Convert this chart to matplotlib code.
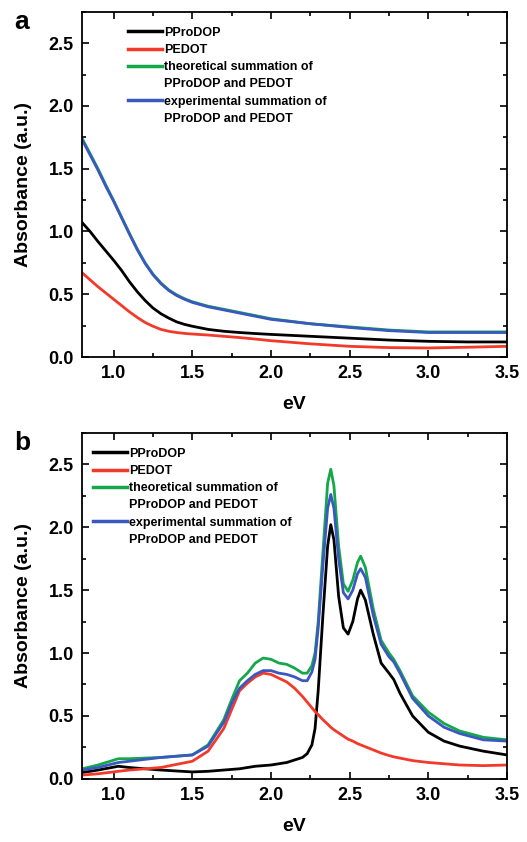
import matplotlib
matplotlib.use("Agg")
import matplotlib.pyplot as plt
from matplotlib.ticker import MultipleLocator
from matplotlib.lines import Line2D

plt.rcParams['font.family'] = ['Liberation Sans', 'DejaVu Sans']
plt.rcParams['font.weight'] = 'bold'

# ---------------- Panel a data ----------------
a_ev = [0.8, 0.85, 0.9, 0.95, 1.0, 1.05, 1.1, 1.15, 1.2, 1.25, 1.3, 1.35, 1.4, 1.45, 1.5,
        1.6, 1.7, 1.8, 1.9, 2.0, 2.25, 2.5, 2.75, 3.0, 3.25, 3.5]
a_pprodop = [1.07, 1.0, 0.92, 0.845, 0.77, 0.69, 0.60, 0.52, 0.45, 0.39, 0.345, 0.31, 0.28, 0.26, 0.245,
             0.22, 0.205, 0.195, 0.187, 0.18, 0.165, 0.15, 0.135, 0.125, 0.12, 0.12]
a_pedot = [0.67, 0.615, 0.56, 0.51, 0.46, 0.41, 0.36, 0.315, 0.275, 0.245, 0.22, 0.205, 0.195, 0.188, 0.183,
           0.175, 0.165, 0.155, 0.143, 0.13, 0.105, 0.085, 0.075, 0.072, 0.078, 0.085]
a_theo = [1.74, 1.62, 1.50, 1.37, 1.245, 1.115, 0.985, 0.86, 0.75, 0.66, 0.59, 0.535, 0.495, 0.465, 0.44,
          0.405, 0.38, 0.355, 0.33, 0.305, 0.265, 0.24, 0.215, 0.20, 0.20, 0.20]
a_exp = [1.73, 1.61, 1.49, 1.36, 1.24, 1.11, 0.98, 0.855, 0.745, 0.655, 0.585, 0.53, 0.49, 0.46, 0.435,
         0.40, 0.375, 0.35, 0.325, 0.30, 0.265, 0.235, 0.21, 0.195, 0.195, 0.195]

# ---------------- Panel b data ----------------
b_ev = [0.8, 0.9, 1.03, 1.1, 1.3, 1.5, 1.6, 1.7, 1.75, 1.8, 1.85, 1.9, 1.95, 2.0, 2.05, 2.1, 2.15,
        2.2, 2.23, 2.26, 2.28, 2.3, 2.33, 2.36, 2.38, 2.40, 2.43, 2.46, 2.49, 2.52, 2.55, 2.57,
        2.6, 2.65, 2.7, 2.75, 2.78, 2.82, 2.9, 3.0, 3.1, 3.2, 3.35, 3.5]
b_pprodop = [0.05, 0.07, 0.10, 0.09, 0.07, 0.055, 0.06, 0.07, 0.075, 0.08, 0.09, 0.10, 0.105, 0.11, 0.12, 0.13, 0.15,
             0.17, 0.20, 0.27, 0.40, 0.70, 1.30, 1.85, 2.02, 1.90, 1.45, 1.20, 1.15, 1.25, 1.43, 1.50,
             1.42, 1.15, 0.92, 0.84, 0.79, 0.68, 0.50, 0.37, 0.30, 0.26, 0.22, 0.19]
b_pedot = [0.03, 0.04, 0.06, 0.07, 0.09, 0.14, 0.22, 0.40, 0.55, 0.70, 0.76, 0.81, 0.84, 0.83, 0.80, 0.77, 0.72,
           0.655, 0.61, 0.565, 0.535, 0.51, 0.47, 0.435, 0.41, 0.39, 0.365, 0.34, 0.315, 0.30, 0.28, 0.27,
           0.255, 0.23, 0.205, 0.185, 0.175, 0.165, 0.145, 0.13, 0.12, 0.11, 0.105, 0.11]
b_theo = [0.08, 0.11, 0.16, 0.16, 0.17, 0.19, 0.27, 0.47, 0.63, 0.78, 0.84, 0.92, 0.96, 0.95, 0.92, 0.91, 0.88,
          0.84, 0.84, 0.90, 1.00, 1.25, 1.80, 2.35, 2.46, 2.33, 1.85, 1.55, 1.49, 1.58, 1.72, 1.77,
          1.68, 1.35, 1.10, 1.00, 0.95, 0.86, 0.66, 0.53, 0.44, 0.38, 0.33, 0.31]
b_exp = [0.07, 0.09, 0.13, 0.14, 0.17, 0.19, 0.26, 0.45, 0.60, 0.72, 0.78, 0.83, 0.86, 0.86, 0.84, 0.83, 0.81,
         0.78, 0.78, 0.85, 0.95, 1.20, 1.70, 2.15, 2.26, 2.15, 1.75, 1.48, 1.43, 1.50, 1.63, 1.67,
         1.60, 1.30, 1.07, 0.97, 0.93, 0.84, 0.64, 0.50, 0.41, 0.36, 0.31, 0.30]

labels = ["PProDOP", "PEDOT", "theoretical summation of", "experimental summation of"]
label_cont = "PProDOP and PEDOT"
colors = ["#000000", "#f23a2a", "#14a84a", "#3a58c0"]

xticks = [1.0, 1.5, 2.0, 2.5, 3.0, 3.5]
yticks = [0.0, 0.5, 1.0, 1.5, 2.0, 2.5]

fig = plt.figure(figsize=(5.27, 8.42), dpi=100)
ax_a = fig.add_axes([0.156, 0.576, 0.806, 0.410])
ax_b = fig.add_axes([0.156, 0.075, 0.806, 0.411])

def style(ax, series, ev, legend_anchor, letter):
    lines = []
    for y, c, lab in zip(series, colors, labels):
        ln, = ax.plot(ev, y, color=c, lw=2.0, label=lab, solid_joinstyle='round')
        lines.append(ln)
    ax.set_xlim(0.8, 3.5)
    ax.set_ylim(0, 2.75)
    ax.set_xticks(xticks)
    ax.set_xticklabels([f"{t:.1f}" for t in xticks])
    ax.set_yticks(yticks)
    ax.set_yticklabels([f"{t:.1f}" for t in yticks])
    ax.xaxis.set_minor_locator(MultipleLocator(0.25))
    ax.yaxis.set_minor_locator(MultipleLocator(0.25))
    ax.tick_params(which='both', direction='in', top=True, right=True, width=1.2)
    ax.tick_params(which='major', length=5, labelsize=13, pad=6)
    ax.tick_params(which='minor', length=3)
    for s in ax.spines.values():
        s.set_linewidth(1.3)
    ax.set_xlabel("eV", fontsize=14, fontweight='bold', labelpad=10)
    ax.set_ylabel("Absorbance (a.u.)", fontsize=14, fontweight='bold', labelpad=12)
    blank = Line2D([], [], color='none')
    handles = [lines[0], lines[1], lines[2], blank, lines[3], blank]
    texts = [labels[0], labels[1], labels[2], label_cont, labels[3], label_cont]
    leg = ax.legend(handles, texts, loc='upper left', bbox_to_anchor=legend_anchor, frameon=False,
                    prop={'size': 9, 'weight': 'bold'}, handlelength=2.7,
                    handletextpad=0.15, labelspacing=0.42, borderaxespad=0, borderpad=0)
    for line in leg.get_lines():
        line.set_linewidth(2.5)
    ax.text(-0.16, 1.005, letter, transform=ax.transAxes, fontsize=19,
            fontweight='bold', va='top', ha='left')

style(ax_a, [a_pprodop, a_pedot, a_theo, a_exp], a_ev, (0.108, 0.957), "a")
style(ax_b, [b_pprodop, b_pedot, b_theo, b_exp], b_ev, (0.026, 0.957), "b")

fig.savefig("out.png", dpi=100)
